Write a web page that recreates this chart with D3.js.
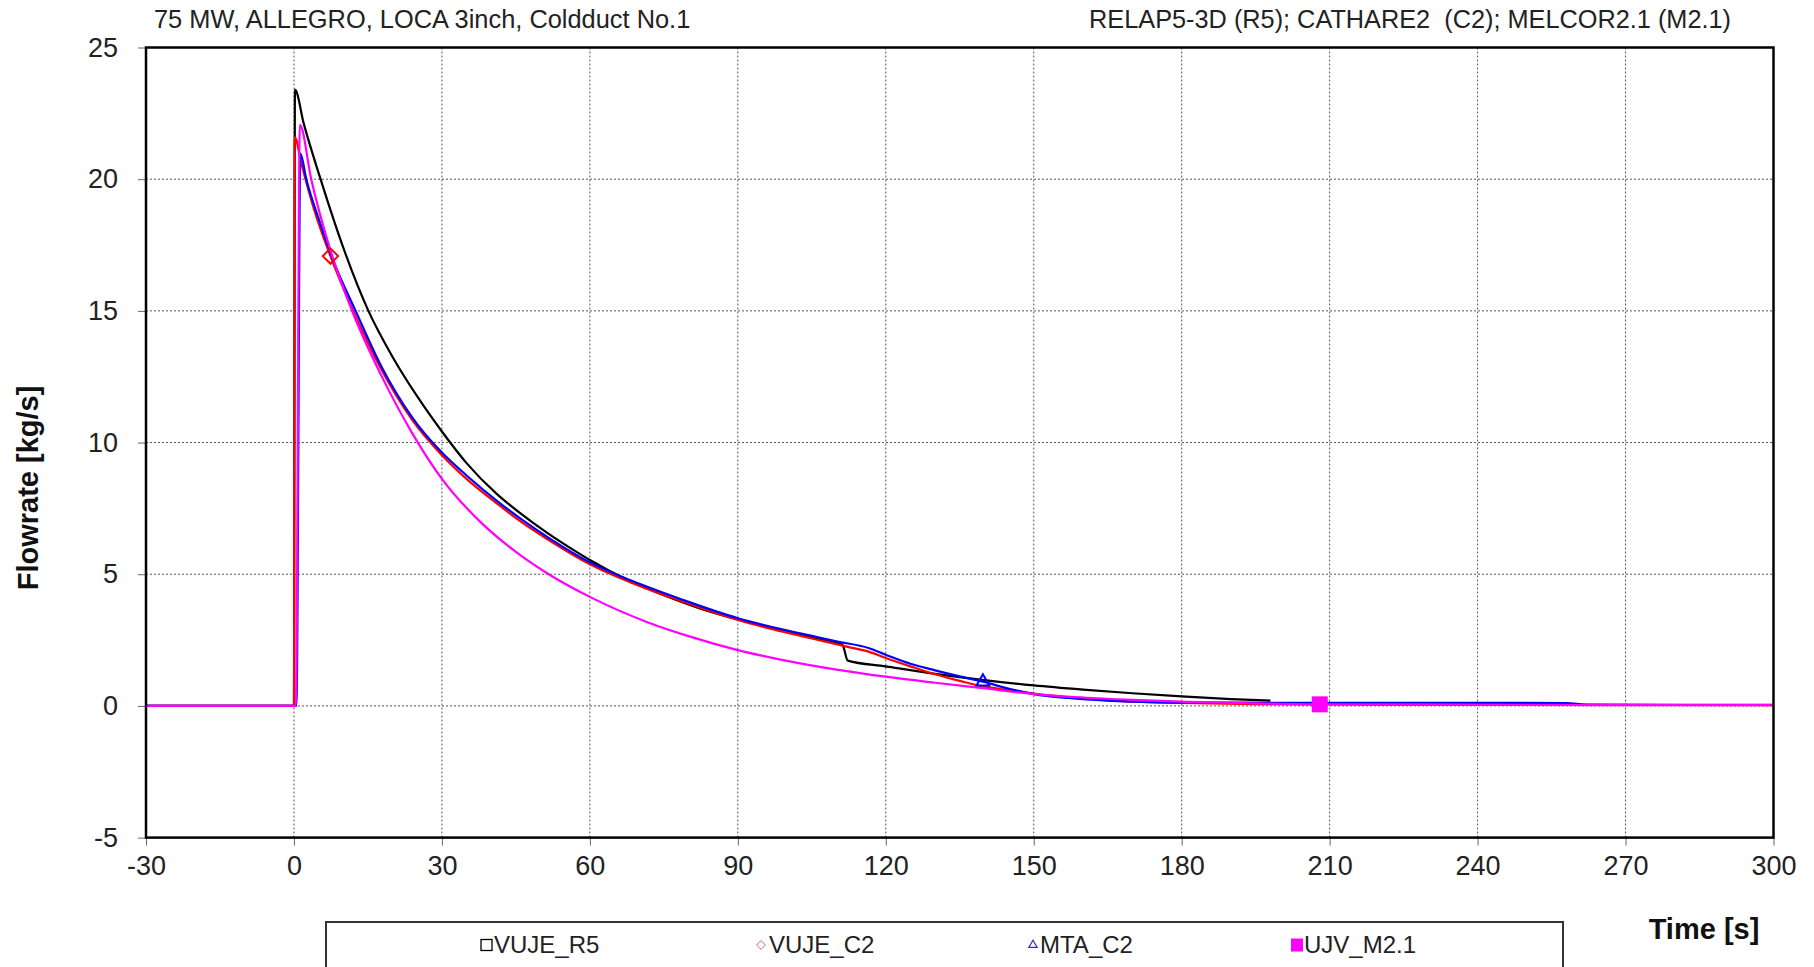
<!DOCTYPE html>
<html>
<head>
<meta charset="utf-8">
<script src="https://cdn.jsdelivr.net/npm/d3@7"></script>
<style>
  body { margin: 0; background: #fff; }
  svg { display: block; font-family: "Liberation Sans", Arial, sans-serif; }
  text { white-space: pre; }
</style>
</head>
<body>
<div id="chart"></div>
<script>
/* Break flowrate, ALLEGRO 75 MW LOCA 3inch */

// time [s], flowrate [kg/s]
const vujeR5 = [[-30,0],[0,0],[0.2,23.4],[2,22.1],[5.4,20.0],[10,17.4],[15.1,15.0],[20,13.25],[25,11.75],[30,10.42],[35,9.22],[41,8.07],[46,7.3],[51.5,6.55],[56,6.0],[60,5.54],[68,4.75],[75,4.2],[82,3.72],[90,3.28],[98,2.92],[105,2.6],[111.2,2.32],[112.3,1.72],[120,1.5],[130,1.22],[140,0.98],[150,0.78],[160,0.62],[170,0.48],[180,0.36],[190,0.26],[198,0.2]];

const vujeC2 = [[-30,0],[0,0],[0.15,21.6],[1.5,20.6],[4,18.9],[7.4,17.08],[12,15.0],[17.7,12.78],[24,10.85],[30,9.52],[35,8.62],[41.4,7.65],[46,7.0],[51.5,6.32],[60,5.38],[68.4,4.68],[78.5,3.98],[90,3.26],[98.7,2.84],[105,2.56],[112.3,2.24],[116.5,2.06],[120,1.82],[125,1.5],[130,1.2],[135,0.95],[139.7,0.74],[145,0.6],[150,0.47],[157,0.33],[164.5,0.22],[172,0.15],[180,0.11],[195,0.07],[220,0.05],[260,0.04],[300,0.03]];

const mtaC2 = [[-30,0],[0,0],[0.5,0],[1.3,20.97],[2.5,20.0],[5,18.5],[8,16.9],[12.5,15.0],[17.7,12.9],[24,10.95],[30,9.62],[35,8.75],[41.4,7.75],[46,7.1],[51.5,6.4],[60,5.45],[68.4,4.76],[78.5,4.05],[90,3.33],[98.7,2.92],[105,2.66],[110,2.45],[116.5,2.2],[120,1.94],[125,1.6],[130,1.35],[135,1.12],[139.7,0.92],[145,0.65],[150,0.45],[157,0.3],[165,0.2],[180,0.13],[200,0.12],[230,0.12],[258,0.11],[262,0.05],[300,0.04]];

const ujvM21 = [[-30,0],[0.4,0],[1.2,22.06],[3.5,20.0],[7.4,17.3],[12,14.9],[17.7,12.55],[24,10.35],[30,8.62],[38,6.95],[45,5.85],[51.5,5.02],[60,4.14],[71.8,3.17],[80,2.65],[90,2.12],[98.7,1.76],[110,1.38],[120,1.11],[130,0.88],[139.7,0.67],[150,0.45],[160,0.32],[170,0.23],[180,0.16],[195,0.1],[208,0.06],[240,0.04],[300,0.03]];

// one marker per curve (time, flowrate); R5 has none in view
const markerC2 = [7.4, 17.08];
const markerMTA = [139.7, 0.92];
const markerM21 = [208, 0.06];

const seriesNames = ["VUJE_R5", "VUJE_C2", "MTA_C2", "UJV_M2.1"];
const seriesColors = ["#000000", "#ff0000", "#0000ff", "#ff00ff"];

const xTicks = [-30, 0, 30, 60, 90, 120, 150, 180, 210, 240, 270, 300];
const yTicks = [-5, 0, 5, 10, 15, 20, 25];

const width = 1814, height = 967;
const margin = { top: 47.5, right: 40.5, bottom: 129.4, left: 146 };

const svg = d3.select("#chart")
  .append("svg")
  .attr("width", width)
  .attr("height", height);

const x = d3.scaleLinear()
  .domain([-30, 300])
  .range([margin.left, width - margin.right]);

const y = d3.scaleLinear()
  .domain([-5, 25])
  .range([height - margin.bottom, margin.top]);

// dotted grid
svg.append("g")
  .selectAll("line")
  .data(xTicks.slice(1, -1))
  .join("line")
  .attr("x1", d => x(d)).attr("x2", d => x(d))
  .attr("y1", y(25)).attr("y2", y(-5))
  .attr("stroke", "#555")
  .attr("stroke-width", 1)
  .attr("stroke-dasharray", "2,2");

svg.append("g")
  .selectAll("line")
  .data(yTicks.slice(1, -1))
  .join("line")
  .attr("x1", x(-30)).attr("x2", x(300))
  .attr("y1", d => y(d)).attr("y2", d => y(d))
  .attr("stroke", "#555")
  .attr("stroke-width", 1)
  .attr("stroke-dasharray", "2,2");

// axes (plain hyphen for negatives)
const xAxis = svg.append("g")
  .attr("transform", `translate(0,${y(-5)})`)
  .call(d3.axisBottom(x).tickValues(xTicks).tickFormat(d => String(d)).tickSize(8).tickPadding(10));

const yAxis = svg.append("g")
  .attr("transform", `translate(${x(-30)},0)`)
  .call(d3.axisLeft(y).tickValues(yTicks).tickFormat(d => String(d)).tickSize(8).tickPadding(20));

[xAxis, yAxis].forEach(g => {
  g.select(".domain").remove();
  g.selectAll(".tick line").attr("stroke", "#666");
  g.selectAll(".tick text")
    .attr("font-size", 27)
    .attr("font-family", "Liberation Sans, Arial, sans-serif")
    .attr("fill", "#222");
});

// curves
const line = d3.line()
  .x(d => x(d[0]))
  .y(d => y(d[1]))
  .curve(d3.curveMonotoneX);

[vujeR5, vujeC2, mtaC2, ujvM21].forEach((data, i) => {
  svg.append("path")
    .datum(data)
    .attr("fill", "none")
    .attr("stroke", seriesColors[i])
    .attr("stroke-width", 2.2)
    .attr("stroke-linejoin", "round")
    .attr("d", line);
});

// markers on the curves
svg.append("path")
  .attr("d", d3.symbol(d3.symbolDiamond2, 150)())
  .attr("transform", `translate(${x(markerC2[0])},${y(markerC2[1])})`)
  .attr("fill", "none")
  .attr("stroke", seriesColors[1])
  .attr("stroke-width", 2);

svg.append("path")
  .attr("d", d3.symbol(d3.symbolTriangle2, 120)())
  .attr("transform", `translate(${x(markerMTA[0])},${y(markerMTA[1])})`)
  .attr("fill", "none")
  .attr("stroke", seriesColors[2])
  .attr("stroke-width", 2);

svg.append("rect")
  .attr("x", x(markerM21[0]) - 8)
  .attr("y", y(markerM21[1]) - 8)
  .attr("width", 16)
  .attr("height", 16)
  .attr("fill", seriesColors[3]);

// plot frame
svg.append("rect")
  .attr("x", x(-30))
  .attr("y", y(25))
  .attr("width", x(300) - x(-30))
  .attr("height", y(-5) - y(25))
  .attr("fill", "none")
  .attr("stroke", "#000")
  .attr("stroke-width", 2.5);

// headings
svg.append("text")
  .attr("x", 154)
  .attr("y", 28)
  .attr("font-size", 25.4)
  .attr("fill", "#222")
  .text("75 MW, ALLEGRO, LOCA 3inch, Coldduct No.1");

svg.append("text")
  .attr("x", 1731)
  .attr("y", 28)
  .attr("text-anchor", "end")
  .attr("font-size", 25.3)
  .attr("fill", "#222")
  .text("RELAP5-3D (R5); CATHARE2  (C2); MELCOR2.1 (M2.1)");

svg.append("text")
  .attr("transform", `translate(38,488) rotate(-90)`)
  .attr("text-anchor", "middle")
  .attr("font-size", 29)
  .attr("font-weight", "bold")
  .attr("fill", "#111")
  .text("Flowrate [kg/s]");

svg.append("text")
  .attr("x", 1704)
  .attr("y", 939)
  .attr("text-anchor", "middle")
  .attr("font-size", 29)
  .attr("font-weight", "bold")
  .attr("fill", "#111")
  .text("Time [s]");

// legend
svg.append("rect")
  .attr("x", 326)
  .attr("y", 922)
  .attr("width", 1237)
  .attr("height", 70)
  .attr("fill", "#fff")
  .attr("stroke", "#333")
  .attr("stroke-width", 2);

const legendX = [481, 756, 1027, 1291];
const legendY = 945;
const legend = svg.append("g")
  .selectAll("g")
  .data(seriesNames)
  .join("g")
  .attr("transform", (d, i) => `translate(${legendX[i]},${legendY})`);

legend.each(function (d, i) {
  const g = d3.select(this);
  if (i === 0) {
    g.append("rect").attr("x", 0).attr("y", -5.5).attr("width", 11).attr("height", 11)
      .attr("fill", "none").attr("stroke", "#000").attr("stroke-width", 1.3);
  } else if (i === 1) {
    g.append("path").attr("d", d3.symbol(d3.symbolDiamond2, 50)())
      .attr("transform", "translate(5,0)")
      .attr("fill", "none").attr("stroke", "#e06070").attr("stroke-width", 1);
  } else if (i === 2) {
    g.append("path").attr("d", d3.symbol(d3.symbolTriangle2, 50)())
      .attr("transform", "translate(6,0)")
      .attr("fill", "none").attr("stroke", "#3030d0").attr("stroke-width", 1.2);
  } else {
    g.append("rect").attr("x", 0).attr("y", -6.5).attr("width", 12).attr("height", 13)
      .attr("fill", seriesColors[3]);
  }
  g.append("text")
    .attr("x", 13)
    .attr("dy", "0.35em")
    .attr("font-size", 24)
    .attr("fill", "#222")
    .text(d);
});
</script>
</body>
</html>
